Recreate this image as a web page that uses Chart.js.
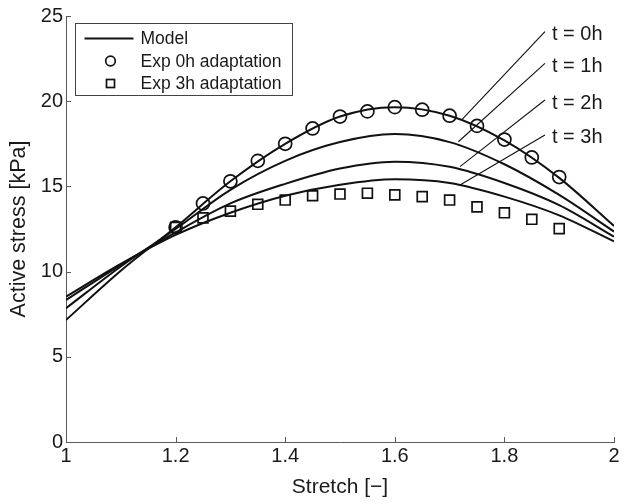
<!DOCTYPE html>
<html>
<head>
<meta charset="utf-8">
<script src="https://cdn.jsdelivr.net/npm/chart.js@4.4.0/dist/chart.umd.min.js"></script>
<style>
  html, body { margin: 0; padding: 0; background: #fff; }
</style>
</head>
<body>
<canvas id="stressChart" width="624" height="504"></canvas>
<script>
// Values
const stretchModel = [1.0, 1.1, 1.2, 1.3, 1.4, 1.5, 1.6, 1.7, 1.8, 1.9, 2.0];
const model0h = [7.16, 10.05, 12.6, 15.3, 17.5, 19.1, 19.65, 19.15, 17.7, 15.5, 12.68];
const model1h = [7.85, 10.3, 12.5, 14.8, 16.5, 17.6, 18.07, 17.6, 16.3, 14.5, 12.35];
const model2h = [8.33, 10.4, 12.3, 14.0, 15.15, 16.05, 16.45, 16.15, 15.2, 13.9, 12.05];
const model3h = [8.53, 10.45, 12.15, 13.45, 14.45, 15.1, 15.42, 15.2, 14.4, 13.3, 11.77];

const stretchExp = [1.2, 1.25, 1.3, 1.35, 1.4, 1.45, 1.5, 1.55, 1.6, 1.65, 1.7, 1.75, 1.8, 1.85, 1.9];
const exp0h = [12.6, 14.0, 15.3, 16.5, 17.5, 18.4, 19.1, 19.4, 19.65, 19.5, 19.15, 18.55, 17.75, 16.7, 15.55];
const exp3h = [12.6, 13.15, 13.55, 13.95, 14.2, 14.45, 14.55, 14.6, 14.5, 14.4, 14.2, 13.8, 13.45, 13.07, 12.52];

const xTicks = [1, 1.2, 1.4, 1.6, 1.8, 2];
const yTicks = [0, 5, 10, 15, 20, 25];

// Leader lines from each model curve up to its label
const curveLabels = ['t = 0h', 't = 1h', 't = 2h', 't = 3h'];
const leaderLow = [[1.722, 18.9], [1.716, 17.62], [1.719, 16.16], [1.719, 15.08]];
const leaderHigh = [[1.874, 24.08], [1.874, 22.22], [1.874, 20.07], [1.874, 18.02]];

const legendLabels = ['Model', 'Exp 0h adaptation', 'Exp 3h adaptation'];

const axisColor = '#5a5a5a';
const textColor = '#1a1a1a';
const fontFamily = '"Liberation Sans", Arial, Helvetica, sans-serif';

function toPoints(xs, ys) {
  return xs.map((x, i) => ({ x: x, y: ys[i] }));
}

// Datasets
const datasets = [];
datasets.push({
  label: legendLabels[1],
  data: toPoints(stretchExp, exp0h),
  showLine: false,
  pointStyle: 'circle',
  pointRadius: 6.5,
  pointBorderWidth: 1.7,
  pointBorderColor: '#111',
  pointBackgroundColor: 'rgba(0,0,0,0)'
});
datasets.push({
  label: legendLabels[2],
  data: toPoints(stretchExp, exp3h),
  showLine: false,
  pointStyle: 'rect',
  pointRadius: 7,
  pointBorderWidth: 1.7,
  pointBorderColor: '#111',
  pointBackgroundColor: 'rgba(0,0,0,0)'
});
[model0h, model1h, model2h, model3h].forEach((vals, i) => {
  datasets.push({
    label: 'Model ' + i,
    data: toPoints(stretchModel, vals),
    showLine: true,
    borderColor: '#111',
    borderWidth: 2,
    pointRadius: 0,
    cubicInterpolationMode: 'monotone'
  });
});
leaderLow.forEach((p, i) => {
  datasets.push({
    label: 'leader ' + i,
    data: [{ x: p[0], y: p[1] }, { x: leaderHigh[i][0], y: leaderHigh[i][1] }],
    showLine: true,
    borderColor: '#111',
    borderWidth: 1.1,
    pointRadius: 0
  });
});

// Ticks inside the axes, curve labels and the legend box
const extras = {
  id: 'extras',
  afterDatasetsDraw(chart) {
    const ctx = chart.ctx;
    const xs = chart.scales.x;
    const ys = chart.scales.y;
    const area = chart.chartArea;
    ctx.save();

    ctx.strokeStyle = axisColor;
    ctx.lineWidth = 1;
    ctx.beginPath();
    xTicks.forEach(v => {
      const px = Math.round(xs.getPixelForValue(v)) + 0.5;
      ctx.moveTo(px, area.bottom);
      ctx.lineTo(px, area.bottom - 5);
    });
    yTicks.forEach(v => {
      const py = Math.round(ys.getPixelForValue(v)) + 0.5;
      ctx.moveTo(area.left, py);
      ctx.lineTo(area.left + 5, py);
    });
    ctx.stroke();

    ctx.fillStyle = textColor;
    ctx.font = '20px ' + fontFamily;
    ctx.textAlign = 'left';
    ctx.textBaseline = 'middle';
    curveLabels.forEach((lab, i) => {
      const px = xs.getPixelForValue(leaderHigh[i][0]) + 7;
      const py = ys.getPixelForValue(leaderHigh[i][1]) + 3;
      ctx.fillText(lab, px, py);
    });

    // legend
    const bx = area.left + 9.5;
    const by = area.top + 7.5;
    ctx.fillStyle = '#fff';
    ctx.fillRect(bx, by, 217, 72);
    ctx.strokeStyle = '#444';
    ctx.lineWidth = 1;
    ctx.strokeRect(bx, by, 217, 72);

    const rows = [by + 15, by + 37.5, by + 60];
    ctx.strokeStyle = '#111';
    ctx.lineWidth = 2;
    ctx.beginPath();
    ctx.moveTo(bx + 9, rows[0]);
    ctx.lineTo(bx + 58, rows[0]);
    ctx.stroke();

    ctx.lineWidth = 1.7;
    ctx.beginPath();
    ctx.arc(bx + 35, rows[1], 4.8, 0, Math.PI * 2);
    ctx.stroke();
    ctx.strokeRect(bx + 31, rows[2] - 4, 8, 8);

    ctx.fillStyle = textColor;
    ctx.font = '17.5px ' + fontFamily;
    legendLabels.forEach((lab, i) => {
      ctx.fillText(lab, bx + 65, rows[i] + 1);
    });

    ctx.restore();
  }
};

new Chart(document.getElementById('stressChart'), {
  type: 'scatter',
  data: { datasets: datasets },
  plugins: [extras],
  options: {
    responsive: false,
    animation: false,
    layout: { padding: { top: 16, right: 10, left: 0, bottom: 0 } },
    plugins: {
      legend: { display: false },
      tooltip: { enabled: false }
    },
    scales: {
      x: {
        type: 'linear',
        min: 1,
        max: 2,
        afterBuildTicks: s => { s.ticks = xTicks.map(v => ({ value: v })); },
        afterFit: s => { s.height = 62; },
        grid: { display: false, drawTicks: false },
        border: { display: true, color: axisColor, width: 1 },
        ticks: {
          color: textColor,
          padding: 2,
          maxRotation: 0,
          font: { family: fontFamily, size: 20 },
          callback: v => String(v)
        },
        title: {
          display: true,
          text: 'Stretch [−]',
          color: textColor,
          padding: { top: 0, bottom: 4 },
          font: { family: fontFamily, size: 21 }
        }
      },
      y: {
        type: 'linear',
        min: 0,
        max: 25,
        afterBuildTicks: s => { s.ticks = yTicks.map(v => ({ value: v })); },
        afterFit: s => { s.width = 66; },
        grid: { display: false, drawTicks: false },
        border: { display: true, color: axisColor, width: 1 },
        ticks: {
          color: textColor,
          padding: 3,
          font: { family: fontFamily, size: 20 }
        },
        title: {
          display: true,
          text: 'Active stress [kPa]',
          color: textColor,
          padding: { top: 6, bottom: 0 },
          font: { family: fontFamily, size: 21.5 }
        }
      }
    }
  }
});
</script>
</body>
</html>
